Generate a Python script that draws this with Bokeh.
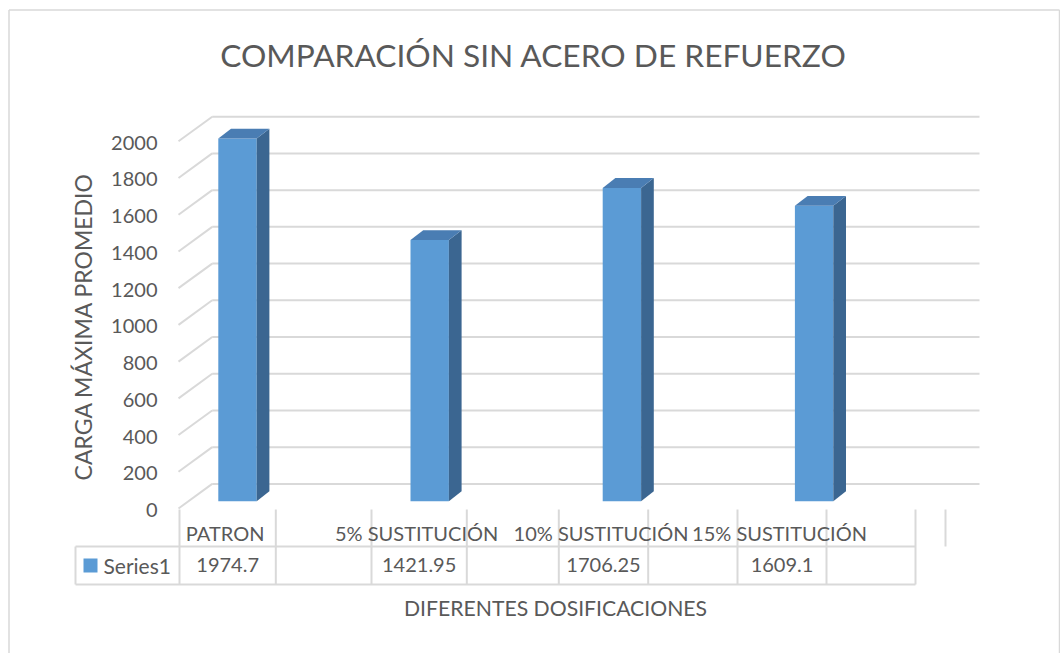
import numpy as np
from bokeh.plotting import figure
from bokeh.models import Range1d
from bokeh.core.properties import value
from bokeh.embed import file_html
from bokeh.resources import INLINE

# ---------------- data ----------------
categories = ["PATRON", "5% SUSTITUCIÓN", "10% SUSTITUCIÓN", "15% SUSTITUCIÓN"]
series_name = "Series1"
values = [1974.7, 1421.95, 1706.25, 1609.1]
value_labels = ["1974.7", "1421.95", "1706.25", "1609.1"]
y_ticks = [0, 200, 400, 600, 800, 1000, 1200, 1400, 1600, 1800, 2000]
chart_title = "COMPARACIÓN SIN ACERO DE REFUERZO"
x_title = "DIFERENTES DOSIFICACIONES"
y_title = "CARGA MÁXIMA PROMEDIO"

# ---------------- style / layout ----------------
FONT = "Lato"
TXT = "#595959"
GRID = "#D9D9D9"
FRONT_C = "#5B9BD5"
TOP_C = "#4A7DB3"
SIDE_C = "#3B6691"

W, H = 1060, 653
PX_PER_X = 192.2          # pixels per category step
PX_PER_V = 0.1836         # pixels per value unit
X0_PIX = 237.0            # pixel x of first category (front face centre)
V0_PIX = 508.0            # pixel y of value 0 (front plane)

def sx(px):   # pixel -> x data
    return (px - X0_PIX) / PX_PER_X

def sv(py):   # pixel -> value data
    return (V0_PIX - py) / PX_PER_V

x_range = Range1d(sx(0), sx(W))
y_range = Range1d(sv(H), sv(0))

p = figure(width=W, height=H, x_range=x_range, y_range=y_range,
           x_axis_type=None, y_axis_type=None, toolbar_location=None,
           output_backend="svg", min_border=0)
p.outline_line_color = None
p.background_fill_color = "white"
p.border_fill_color = "white"

# chart border
BL, BR, BT, BB = sx(8.5), sx(1059), sv(9.5), sv(660)
p.segment(x0=[BL, BL, BR], y0=[BB, BT, BT], x1=[BL, BR, BR], y1=[BT, BT, BB],
          line_color=GRID, line_width=1.5)

idx = np.arange(len(categories), dtype=float)
vals = np.array(values, dtype=float)
ticks = np.array(y_ticks, dtype=float)

# walls
DEPTH_V = 134.0                    # back wall offset in value units
WALL_DX = 33.7 / PX_PER_X          # back wall offset in x units
FRONT_LEFT = sx(178)
BACK_LEFT = FRONT_LEFT + WALL_DX
BACK_RIGHT = sx(979)

p.segment(x0=[BACK_LEFT] * len(ticks), y0=ticks + DEPTH_V,
          x1=[BACK_RIGHT] * len(ticks), y1=ticks + DEPTH_V,
          line_color=GRID, line_width=2)
p.segment(x0=[FRONT_LEFT] * len(ticks), y0=ticks,
          x1=[BACK_LEFT] * len(ticks), y1=ticks + DEPTH_V,
          line_color=GRID, line_width=2)

# bars (3D look)
HW = 19.2 / PX_PER_X
BASE = 40.0
BDX = 12.7 / PX_PER_X
BDV = 9.8 / PX_PER_V
p.quad(left=idx - HW, right=idx + HW, bottom=BASE, top=vals + BASE,
       fill_color=FRONT_C, line_color=None)
side_xs = [[i + HW, i + HW + BDX, i + HW + BDX, i + HW] for i in idx]
side_ys = [[BASE, BASE + BDV, v + BASE + BDV, v + BASE] for v in vals]
p.patches(side_xs, side_ys, fill_color=SIDE_C, line_color=None)
top_xs = [[i - HW, i + HW, i + HW + BDX, i - HW + BDX] for i in idx]
top_ys = [[v + BASE, v + BASE, v + BASE + BDV, v + BASE + BDV] for v in vals]
p.patches(top_xs, top_ys, fill_color=TOP_C, line_color=None)

# y tick labels
p.text(x=[sx(157)] * len(ticks), y=ticks - 8, text=[str(int(t)) for t in ticks],
       text_align="right", text_baseline="middle", text_color=TXT,
       text_font=value(FONT), text_font_size="20px")

# data table
col_edges_px = [179, 275.3, 371, 466.3, 558.3, 647.7, 737, 826, 915]
col_edges = np.array([sx(c) for c in col_edges_px])
TABLE_LEFT = sx(75)
ROW_TOP = sv(509)
ROW_MID = sv(546)
ROW_BOT = sv(584)
p.segment(x0=[TABLE_LEFT, TABLE_LEFT], y0=[ROW_MID, ROW_BOT],
          x1=[col_edges[-1], col_edges[-1]], y1=[ROW_MID, ROW_BOT],
          line_color=GRID, line_width=2)
p.segment(x0=[TABLE_LEFT], y0=[ROW_MID], x1=[TABLE_LEFT], y1=[ROW_BOT],
          line_color=GRID, line_width=2)
p.segment(x0=col_edges, y0=[ROW_TOP] * len(col_edges),
          x1=col_edges, y1=[ROW_BOT] * len(col_edges),
          line_color=GRID, line_width=2)
p.segment(x0=[sx(945)], y0=[ROW_TOP], x1=[sx(945)], y1=[ROW_MID],
          line_color=GRID, line_width=2)

cell_centers = (col_edges[0::2][:len(categories)] + col_edges[1::2][:len(categories)]) / 2
p.text(x=cell_centers - 2.5 / PX_PER_X, y=[sv(532)] * len(categories), text=categories,
       text_align="center", text_baseline="middle", text_color=TXT,
       text_font=value(FONT), text_font_size="20px")
p.text(x=cell_centers, y=[sv(564.5)] * len(categories), text=value_labels,
       text_align="center", text_baseline="middle", text_color=TXT,
       text_font=value(FONT), text_font_size="20px")

# legend key inside table
p.rect(x=[sx(90)], y=[sv(565)], width=14, height=14,
       width_units="screen", height_units="screen",
       fill_color=FRONT_C, line_color=None)
p.text(x=[sx(103)], y=[sv(564.5)], text=[series_name],
       text_align="left", text_baseline="middle", text_color=TXT,
       text_font=value(FONT), text_font_size="21px")

# titles
p.text(x=[sx(533)], y=[sv(54)], text=[chart_title],
       text_align="center", text_baseline="middle", text_color=TXT,
       text_font=value(FONT), text_font_size="31.7px")
p.text(x=[sx(555)], y=[sv(607)], text=[x_title],
       text_align="center", text_baseline="middle", text_color=TXT,
       text_font=value(FONT), text_font_size="21.2px")
p.text(x=[sx(82)], y=[sv(326)], text=[y_title], angle=np.pi / 2,
       text_align="center", text_baseline="middle", text_color=TXT,
       text_font=value(FONT), text_font_size="23px")

open("out.html", "w").write(file_html(p, INLINE))
